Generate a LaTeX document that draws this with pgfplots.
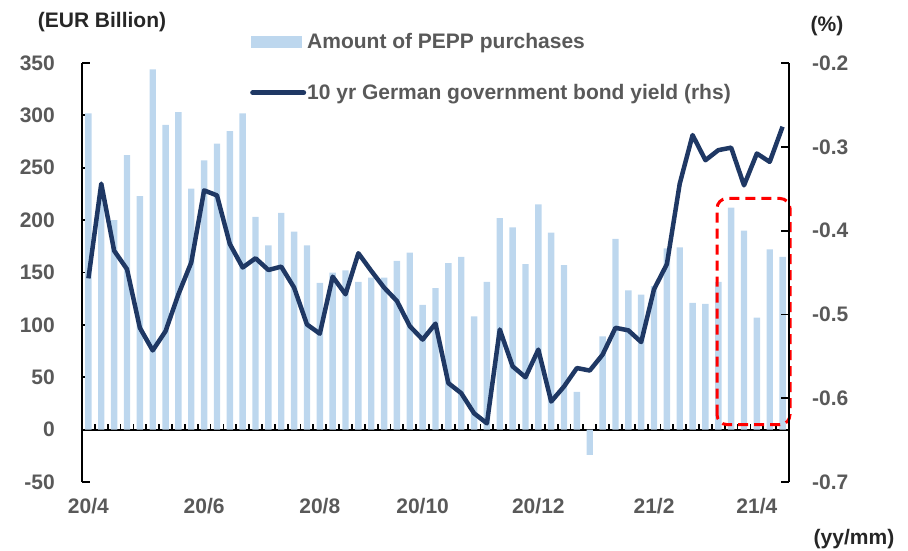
\documentclass[border=0pt]{standalone}
\usepackage{fontspec}
\setmainfont{Liberation Sans}
\usepackage{pgfplots}
\pgfplotsset{compat=1.18}
\definecolor{barblue}{RGB}{189,215,238}
\definecolor{navy}{RGB}{31,56,100}
\definecolor{txtgray}{RGB}{89,89,89}
\definecolor{titlegray}{RGB}{38,38,38}
\newcommand\lbl{\fontsize{21}{25}\selectfont\bfseries}
\begin{document}
\begin{tikzpicture}[x=1pt,y=1pt]
\useasboundingbox (0,0) rectangle (908,550);
\begin{axis}[
  at={(82pt,68pt)}, anchor=south west,
  scale only axis, width=707pt, height=419pt,
  xmin=-0.5, xmax=54.5, ymin=-50, ymax=350,
  axis y line*=left, axis x line*=middle,
  hide obscured x ticks=false,
  axis line style={line width=2.2pt, black},
  tick align=inside,
  major tick length=8pt, minor tick length=6pt,
  ytick={-50,0,50,100,150,200,250,300,350},
  yticklabels={-50,0,50,100,150,200,250,300,350},
  y tick style={line width=1.8pt, black},
  yticklabel style={anchor=east, xshift=-27pt, inner sep=0pt, font=\lbl, text=txtgray},
  xtick={0,9,18,26,35,44,52},
  xticklabels={20/4,20/6,20/8,20/10,20/12,21/2,21/4},
  major x tick style={draw=none},
  minor xtick={0.5,1.5,...,53.5},
  minor x tick style={line width=1.8pt, black, yshift=6pt},
  xticklabel style={anchor=base, yshift=-76pt, inner sep=0pt, font=\lbl, text=txtgray},
  ybar, bar width=6.4pt,
  clip=false,
]
\addplot[fill=barblue, draw=none] coordinates {
(0,302) (1,228) (2,200) (3,262) (4,223) (5,344) (6,291) (7,303) (8,230) (9,257)
(10,273) (11,285) (12,302) (13,203) (14,176) (15,207) (16,189) (17,176) (18,140) (19,150)
(20,152) (21,141) (22,145) (23,145) (24,161) (25,169) (26,119) (27,135) (28,159) (29,165)
(30,108) (31,141) (32,202) (33,193) (34,158) (35,215) (36,188) (37,157) (38,36) (39,-24)
(40,89) (41,182) (42,133) (43,129) (44,137) (45,173) (46,174) (47,121) (48,120) (49,141)
(50,212) (51,190) (52,107) (53,172) (54,165)
};
\draw[red, line width=3pt, dash pattern=on 10pt off 6pt, rounded corners=10pt]
  (axis cs:48.9,4.8) rectangle (axis cs:54.58,220.7);
\end{axis}
\begin{axis}[
  at={(82pt,68pt)}, anchor=south west,
  scale only axis, width=707pt, height=419pt,
  xmin=-0.5, xmax=54.5, ymin=-0.7, ymax=-0.2,
  axis y line*=right, axis x line=none,
  axis line style={line width=2.2pt, black},
  tick align=inside, major tick length=8pt,
  ytick={-0.7,-0.6,-0.5,-0.4,-0.3,-0.2},
  yticklabels={-0.7,-0.6,-0.5,-0.4,-0.3,-0.2},
  y tick style={line width=1.8pt, black},
  yticklabel style={anchor=west, xshift=23pt, inner sep=0pt, font=\lbl, text=txtgray},
  legend style={at={(0.2376,1.0728)}, anchor=north west, draw=none, fill=none,
    font=\lbl, text=txtgray, row sep=32pt, inner sep=0pt,
    nodes={inner sep=1pt}},
  legend cell align=left,
]
\addlegendimage{legend image code/.code={\fill[barblue] (0pt,-5.5pt) rectangle (50pt,5.5pt);}}
\addlegendentry{Amount of PEPP purchases}
\addplot[navy, line width=4.5pt, line join=round,
  legend image code/.code={\draw[navy, line width=5pt, line cap=round] (1pt,0pt) -- (52pt,0pt);}]
 coordinates {
(0,-0.457) (1,-0.344) (2,-0.424) (3,-0.446) (4,-0.516) (5,-0.543) (6,-0.520) (7,-0.476) (8,-0.438) (9,-0.352)
(10,-0.358) (11,-0.416) (12,-0.444) (13,-0.433) (14,-0.447) (15,-0.443) (16,-0.468) (17,-0.512) (18,-0.523) (19,-0.455)
(20,-0.476) (21,-0.427) (22,-0.448) (23,-0.468) (24,-0.484) (25,-0.514) (26,-0.530) (27,-0.511) (28,-0.582) (29,-0.594)
(30,-0.618) (31,-0.630) (32,-0.518) (33,-0.562) (34,-0.575) (35,-0.542) (36,-0.604) (37,-0.586) (38,-0.564) (39,-0.567)
(40,-0.548) (41,-0.516) (42,-0.519) (43,-0.533) (44,-0.470) (45,-0.440) (46,-0.344) (47,-0.286) (48,-0.316) (49,-0.304)
(50,-0.301) (51,-0.346) (52,-0.308) (53,-0.318) (54,-0.276)
};
\addlegendentry{10 yr German government bond yield (rhs)}
\end{axis}
\node[font=\lbl, text=titlegray] at (102,528) {(EUR Billion)};
\node[font=\lbl, text=titlegray] at (827,524) {(\%)};
\node[font=\lbl, text=titlegray] at (854,11) {(yy/mm)};
\end{tikzpicture}
\end{document}
